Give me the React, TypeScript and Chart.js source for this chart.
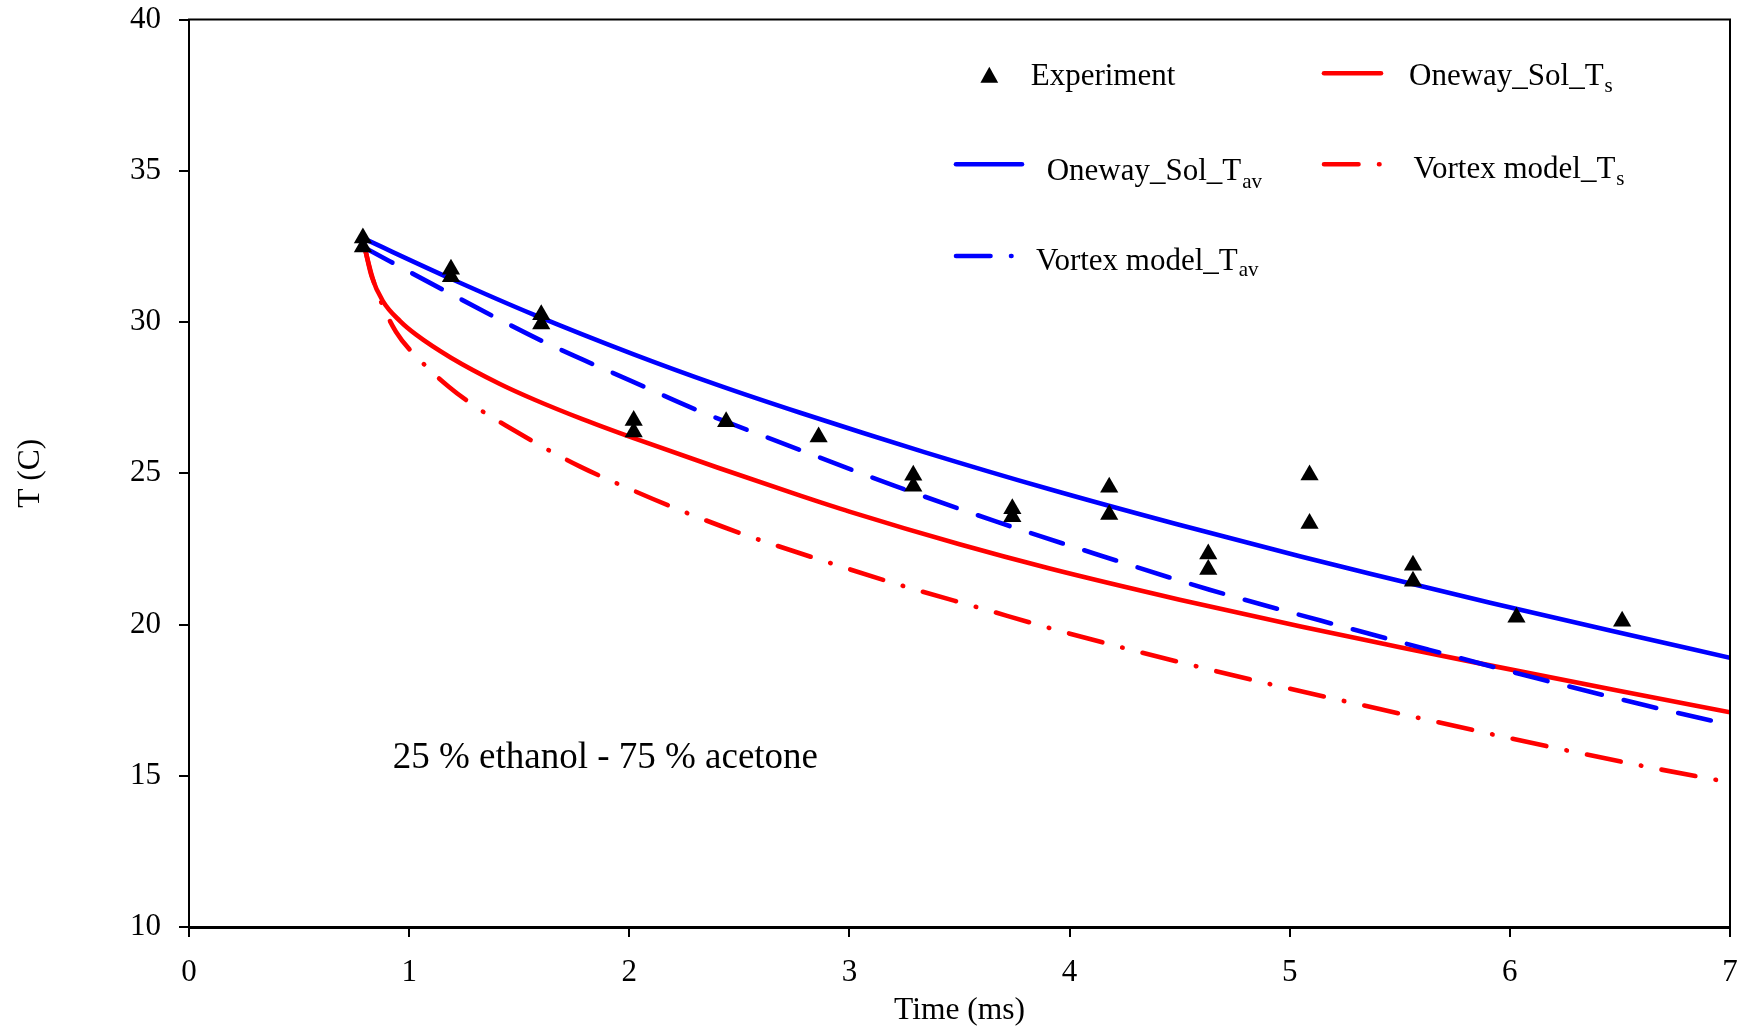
import React, { useEffect, useRef } from 'react';
import { Chart, registerables } from 'chart.js';

Chart.register(...registerables);

const SERIF = "'Liberation Serif', 'Times New Roman', Times, serif";

// ---- Data ----
const expTime = [0.79, 0.79, 1.19, 1.19, 1.6, 1.6, 2.02, 2.02, 2.44, 2.86, 3.29, 3.29, 3.74, 3.74, 4.18, 4.18, 4.63, 4.63, 5.09, 5.09, 5.56, 5.56, 6.03, 6.51];
const expTemp = [32.78, 32.48, 31.74, 31.5, 30.24, 29.93, 26.74, 26.36, 26.7, 26.2, 24.93, 24.57, 23.83, 23.56, 24.54, 23.64, 22.33, 21.82, 24.94, 23.34, 21.96, 21.43, 20.24, 20.11];

const onewayTavTime = [0.79, 1.19, 1.56, 2.02, 2.4, 2.78, 3.34, 3.91, 4.48, 5.05, 5.37, 5.91, 6.46, 7.0];
const onewayTavTemp = [32.77, 31.43, 30.26, 28.93, 27.92, 26.99, 25.7, 24.47, 23.33, 22.25, 21.67, 20.72, 19.79, 18.9];

const vortexTavTime = [0.79, 1.155, 1.61, 2.0, 2.307, 2.776, 3.2, 3.668, 4.154, 4.636, 5.14, 5.63, 6.123, 6.62, 7.0];
const vortexTavTemp = [32.49, 31.06, 29.35, 28.08, 27.09, 25.77, 24.6, 23.4, 22.25, 21.15, 20.13, 19.17, 18.22, 17.32, 16.68];

const onewayTsTime = [0.8, 0.83, 0.88, 0.96, 1.03, 1.19, 1.41, 1.57, 1.79, 2.02, 2.4, 2.78, 3.0, 3.5, 3.91, 4.5, 5.05, 5.5, 5.88, 6.5, 7.0];
const onewayTsTemp = [32.4, 31.5, 30.7, 30.02, 29.59, 28.82, 27.96, 27.43, 26.78, 26.16, 25.19, 24.25, 23.73, 22.65, 21.85, 20.82, 19.93, 19.25, 18.69, 17.8, 17.1];

const vortexTsTime = [0.8, 0.83, 0.864, 0.94, 1.053, 1.18, 1.32, 1.474, 1.622, 1.777, 1.936, 2.2, 2.5, 2.918, 3.255, 3.596, 3.93, 4.265, 4.603, 4.944, 5.29, 5.63, 5.97, 6.31, 6.655, 7.0];
const vortexTsTemp = [32.4, 31.55, 30.82, 29.68, 28.71, 27.86, 27.11, 26.43, 25.81, 25.22, 24.69, 23.87, 23.03, 22.02, 21.25, 20.54, 19.84, 19.19, 18.57, 17.97, 17.4, 16.84, 16.29, 15.76, 15.25, 14.78];

const xTicks = [0, 1, 2, 3, 4, 5, 6, 7];
const yTicks = [10, 15, 20, 25, 30, 35, 40];

const xTitle = 'Time (ms)';
const yTitle = 'T (C)';
const annotationText = '25 % ethanol - 75 % acetone';

const BLUE = '#0000ff';
const RED = '#ff0000';
const DASH_BLUE = [33.5, 22.5];
const DASH_DOT = [34.5, 20.5, 0.5, 20.5];

function pts(xs: number[], ys: number[]) {
  return xs.map((x, i) => ({ x, y: ys[i] }));
}

const overlayPlugin = {
  id: 'overlay',
  afterDraw(chart: any) {
    const ctx: CanvasRenderingContext2D = chart.ctx;
    const { left, right, top, bottom } = chart.chartArea;
    ctx.save();
    // top and right spines
    ctx.strokeStyle = '#000';
    ctx.lineWidth = 2;
    ctx.setLineDash([]);
    ctx.beginPath();
    ctx.moveTo(left - 1, top);
    ctx.lineTo(right, top);
    ctx.lineTo(right, bottom);
    ctx.stroke();

    // legend
    const mainFont = `31px ${SERIF}`;
    const subFont = `21px ${SERIF}`;
    const drawLabel = (x: number, y: number, main: string, sub: string, subDy: number) => {
      ctx.fillStyle = '#000';
      ctx.textAlign = 'left';
      ctx.textBaseline = 'alphabetic';
      ctx.font = mainFont;
      ctx.fillText(main, x, y);
      if (sub) {
        const w = ctx.measureText(main).width;
        ctx.font = subFont;
        ctx.fillText(sub, x + w + 1, y + subDy);
      }
    };
    const drawSwatch = (x0: number, x1: number, y: number, color: string, dash: number[]) => {
      ctx.strokeStyle = color;
      ctx.lineWidth = 4.6;
      ctx.lineCap = 'round';
      ctx.setLineDash(dash);
      ctx.beginPath();
      ctx.moveTo(x0, y);
      ctx.lineTo(x1, y);
      ctx.stroke();
      ctx.setLineDash([]);
    };

    // Experiment
    ctx.fillStyle = '#000';
    ctx.beginPath();
    ctx.moveTo(989.3, 66.7);
    ctx.lineTo(998.2, 82.7);
    ctx.lineTo(980.4, 82.7);
    ctx.closePath();
    ctx.fill();
    drawLabel(1030.7, 85, 'Experiment', '', 0);

    // Oneway_Sol_Ts
    drawSwatch(1324, 1381, 73.3, RED, []);
    drawLabel(1409, 84.5, 'Oneway_Sol_T', 's', 7);

    // Oneway_Sol_Tav
    drawSwatch(956, 1022, 164.3, BLUE, []);
    drawLabel(1046.7, 180, 'Oneway_Sol_T', 'av', 8);

    // Vortex model_Ts
    drawSwatch(1324, 1380.5, 164.3, RED, DASH_DOT);
    drawLabel(1413.6, 178, 'Vortex model_T', 's', 7);

    // Vortex model_Tav
    drawSwatch(956, 1011.5, 256, BLUE, DASH_DOT);
    drawLabel(1036, 270, 'Vortex model_T', 'av', 6);

    // annotation
    ctx.font = `37px ${SERIF}`;
    ctx.fillStyle = '#000';
    ctx.textAlign = 'left';
    ctx.textBaseline = 'alphabetic';
    ctx.fillText(annotationText, 392.7, 768.3);

    ctx.restore();
  },
};

function zeroPadding(scale: any) {
  scale.paddingTop = 0;
  scale.paddingBottom = 0;
  scale.paddingLeft = 0;
  scale.paddingRight = 0;
}

export default function App() {
  const ref = useRef<HTMLCanvasElement | null>(null);

  useEffect(() => {
    if (!ref.current) return;
    const tickFont = { family: SERIF, size: 31 };
    const titleFont = { family: SERIF, size: 31.5 };
    const chart = new Chart(ref.current, {
      type: 'line',
      data: {
        datasets: [
          {
            label: 'Experiment',
            data: pts(expTime, expTemp),
            showLine: false,
            pointStyle: 'triangle',
            pointRadius: 10.5,
            pointBorderWidth: 0,
            pointBackgroundColor: '#000',
            pointBorderColor: '#000',
            borderColor: '#000',
            backgroundColor: '#000',
          },
          {
            label: 'Vortex model_Tav',
            data: pts(vortexTavTime, vortexTavTemp),
            borderColor: BLUE,
            borderWidth: 4.6,
            borderDash: DASH_BLUE,
            borderCapStyle: 'round',
            pointRadius: 0,
            cubicInterpolationMode: 'monotone',
            fill: false,
          },
          {
            label: 'Oneway_Sol_Tav',
            data: pts(onewayTavTime, onewayTavTemp),
            borderColor: BLUE,
            borderWidth: 4.6,
            pointRadius: 0,
            cubicInterpolationMode: 'monotone',
            fill: false,
          },
          {
            label: 'Vortex model_Ts',
            data: pts(vortexTsTime, vortexTsTemp),
            borderColor: RED,
            borderWidth: 4.6,
            borderDash: DASH_DOT,
            borderCapStyle: 'round',
            pointRadius: 0,
            cubicInterpolationMode: 'monotone',
            fill: false,
          },
          {
            label: 'Oneway_Sol_Ts',
            data: pts(onewayTsTime, onewayTsTemp),
            borderColor: RED,
            borderWidth: 4.6,
            pointRadius: 0,
            cubicInterpolationMode: 'monotone',
            fill: false,
          },
        ],
      },
      options: {
        responsive: false,
        animation: false,
        devicePixelRatio: 1,
        layout: { padding: { top: 19.5, right: 18, bottom: 0, left: 0 } },
        plugins: {
          legend: { display: false },
          tooltip: { enabled: false },
        },
        events: [],
        scales: {
          x: {
            type: 'linear',
            min: 0,
            max: 7,
            afterBuildTicks: (scale: any) => {
              scale.ticks = xTicks.map((v) => ({ value: v }));
            },
            afterFit: (scale: any) => {
              scale.height = 103;
              zeroPadding(scale);
            },
            ticks: { font: tickFont, color: '#000', padding: 17, autoSkip: false, maxRotation: 0 },
            grid: { drawOnChartArea: false, drawTicks: true, tickLength: 10, color: '#000', lineWidth: 2 },
            border: { display: true, color: '#000', width: 3 },
            title: { display: true, text: xTitle, color: '#000', font: titleFont, padding: { top: 0, bottom: 0 } },
          },
          y: {
            type: 'linear',
            min: 10,
            max: 40,
            afterBuildTicks: (scale: any) => {
              scale.ticks = yTicks.map((v) => ({ value: v }));
            },
            afterFit: (scale: any) => {
              scale.width = 189;
              zeroPadding(scale);
            },
            ticks: { font: tickFont, color: '#000', padding: 18, autoSkip: false },
            grid: { drawOnChartArea: false, drawTicks: true, tickLength: 10, color: '#000', lineWidth: 2 },
            border: { display: true, color: '#000', width: 2 },
            title: { display: true, text: yTitle, color: '#000', font: titleFont, padding: { top: 12, bottom: 0 } },
          },
        },
      },
      plugins: [overlayPlugin],
    } as any);
    return () => chart.destroy();
  }, []);

  return (
    <div style={{ position: 'fixed', left: 0, top: 0, width: 1748, height: 1030, background: '#fff' }}>
      <canvas ref={ref} width={1748} height={1030} style={{ display: 'block', width: 1748, height: 1030 }} />
    </div>
  );
}
